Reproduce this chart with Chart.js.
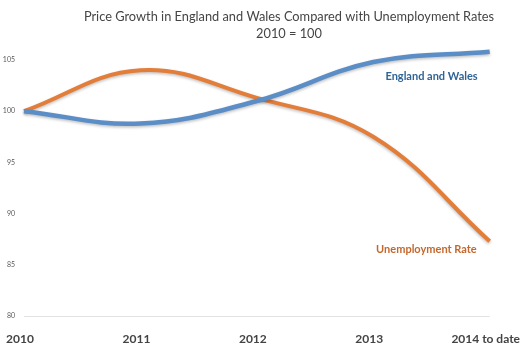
<!DOCTYPE html>
<html>
<head>
<meta charset="utf-8">
<script src="https://cdn.jsdelivr.net/npm/chart.js@4/dist/chart.umd.min.js"></script>
<style>
  body { margin: 0; background: #fff; }
  #wrap { width: 532px; height: 343px; }
</style>
</head>
<body>
<div id="wrap"><canvas id="grafico"></canvas></div>
<script>
const anos = ['2010', '2011', '2012', '2013', '2014 to date']
const englandWales = [100, 98.8, 101.0, 104.8, 105.8]
const desemprego = [100, 104.0, 101.3, 97.5, 87.3]
const ticksY = [80, 85, 90, 95, 100, 105]

const titulo = ['Price Growth in England and Wales Compared with Unemployment Rates', '2010 = 100']

// title + series labels drawn on the canvas
const textos = {
  id: 'textos',
  afterDraw(chart) {
    const ctx = chart.ctx
    const x = chart.scales.x
    const y = chart.scales.y
    ctx.save()
    ctx.textAlign = 'center'
    ctx.textBaseline = 'middle'
    ctx.fillStyle = '#454545'
    ctx.font = '12.8px Lato'
    ctx.fillText(titulo[0], 289, 17)
    ctx.fillText(titulo[1], 289, 34)

    ctx.textAlign = 'right'
    ctx.font = 'bold 11px Lato'
    ctx.fillStyle = '#2f6496'
    ctx.fillText('England and Wales', x.getPixelForValue(4) - 12, y.getPixelForValue(103.4))
    ctx.fillStyle = '#c4682e'
    ctx.fillText('Unemployment Rate', x.getPixelForValue(4) - 13, y.getPixelForValue(86.5))
    ctx.restore()
  }
}

const sombra = {
  id: 'sombra',
  beforeDatasetDraw(chart) {
    const ctx = chart.ctx
    ctx.save()
    ctx.shadowColor = 'rgba(0,0,0,0.25)'
    ctx.shadowBlur = 3
    ctx.shadowOffsetY = 1.5
  },
  afterDatasetDraw(chart) {
    chart.ctx.restore()
  }
}

new Chart(document.getElementById('grafico'), {
  type: 'line',
  data: {
    labels: anos,
    datasets: [
      {
        label: 'England and Wales',
        data: englandWales,
        borderColor: '#5b8dc6',
        borderWidth: 4.5,
        pointRadius: 0,
        tension: 0.4,
        clip: false
      },
      {
        label: 'Unemployment Rate',
        data: desemprego,
        borderColor: '#e37d3a',
        borderWidth: 4,
        pointRadius: 0,
        tension: 0.4,
        clip: false
      }
    ]
  },
  options: {
    responsive: true,
    maintainAspectRatio: false,
    animation: false,
    layout: { padding: { top: 60, right: 38, left: 0, bottom: 0 } },
    plugins: {
      legend: { display: false },
      tooltip: { enabled: false }
    },
    scales: {
      x: {
        offset: false,
        grid: { display: false },
        border: { display: false },
        ticks: {
          color: '#444',
          font: { family: 'Lato', size: 12, weight: 'bold' },
          padding: 8,
          labelOffset: -4,
          maxRotation: 0,
          autoSkip: false
        },
        afterFit(scale) { scale.height = 27 }
      },
      y: {
        min: 80,
        max: 105,
        afterBuildTicks(scale) { scale.ticks = ticksY.map(v => ({ value: v })) },
        grid: {
          drawTicks: false,
          color: c => c.tick && c.tick.value === 80 ? '#e2e2e2' : 'rgba(0,0,0,0)'
        },
        border: { display: false },
        ticks: {
          color: '#595959',
          font: { family: 'Lato', size: 7 },
          padding: 9
        },
        afterFit(scale) { scale.width = 24 }
      }
    }
  },
  plugins: [sombra, textos]
})
</script>
</body>
</html>
